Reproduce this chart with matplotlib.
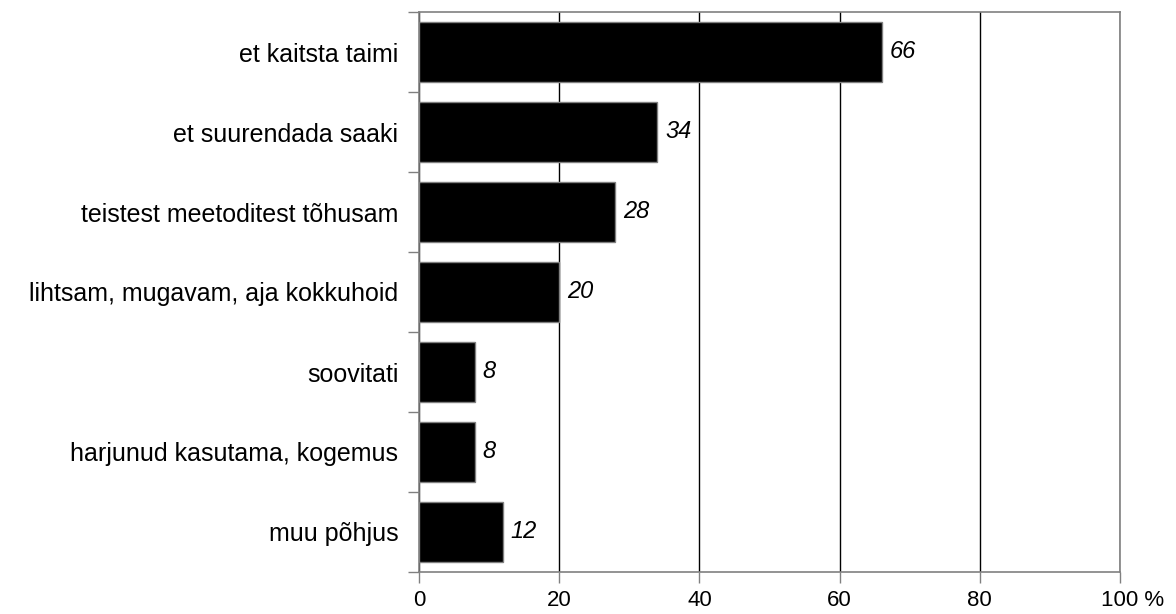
import matplotlib
matplotlib.use("Agg")
import matplotlib.pyplot as plt
import matplotlib.transforms as mtransforms
from matplotlib.ticker import FixedLocator, NullFormatter

plt.rcParams['font.family'] = ['Liberation Sans', 'DejaVu Sans']

categories = ["et kaitsta taimi", "et suurendada saaki", "teistest meetoditest tõhusam",
              "lihtsam, mugavam, aja kokkuhoid", "soovitati", "harjunud kasutama, kogemus",
              "muu põhjus"]
values = [66, 34, 28, 20, 8, 8, 12]
xticks = [0, 20, 40, 60, 80, 100]
xticklabels = ["0", "20", "40", "60", "80", "100 %"]

fig = plt.figure(figsize=(11.76, 6.14), dpi=100)
ax = fig.add_axes([419/1176, 1-572/614, 701/1176, 560/614])

n = len(categories)
pos = list(range(n))
ax.barh(pos, values, height=0.74, color='black', edgecolor='#808080', linewidth=1, zorder=3)
for p, v in zip(pos, values):
    ax.text(v + 1.1, p, str(v), va='center', ha='left', fontsize=17, style='italic', zorder=4)

ax.set_xlim(0, 100)
ax.set_ylim(n - 0.5, -0.5)
ax.set_xticks(xticks)
ax.set_xticklabels(xticklabels, fontsize=16)
ax.xaxis.grid(True, color='black', linewidth=1, zorder=1)
ax.set_yticks(pos)
ax.set_yticklabels(categories, fontsize=18)
ax.tick_params(axis='y', which='major', length=0, pad=15)
ax.yaxis.set_minor_locator(FixedLocator([i - 0.5 for i in range(n + 1)]))
ax.yaxis.set_minor_formatter(NullFormatter())
ax.tick_params(axis='y', which='minor', length=8, color='#808080', width=1)
ax.tick_params(axis='x', length=8, color='#808080', width=1, pad=5)
for s in ax.spines.values():
    s.set_color('#808080')
    s.set_linewidth(1.2)

# shift the last label so that the number stays centred on its tick
last = ax.get_xticklabels()[-1]
last.set_transform(last.get_transform() +
                   mtransforms.ScaledTranslation(13/100, 0, fig.dpi_scale_trans))

fig.savefig("out.png", dpi=100)
